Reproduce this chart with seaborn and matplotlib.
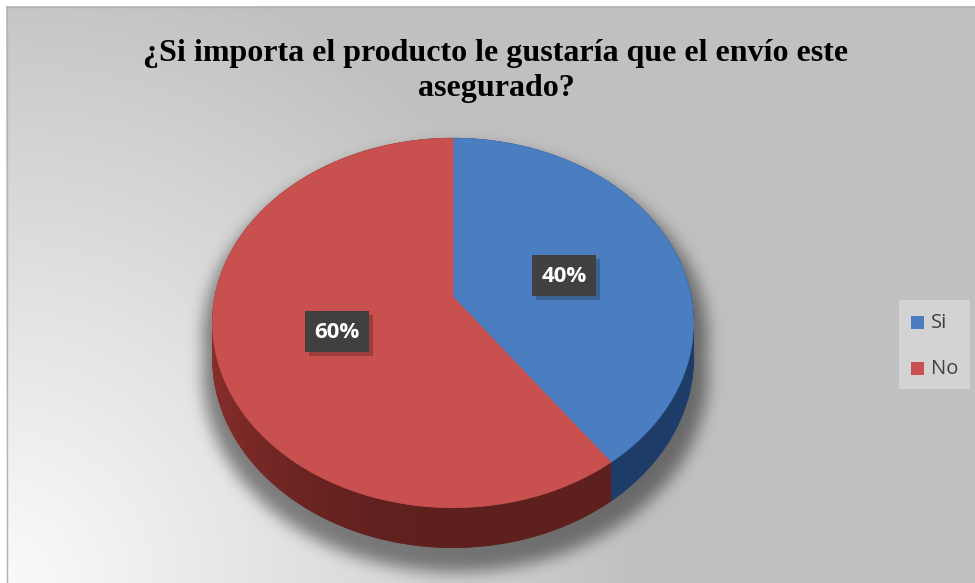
import numpy as np
import matplotlib
matplotlib.use("Agg")
import matplotlib.pyplot as plt
from matplotlib.patches import Polygon, Rectangle
from matplotlib.path import Path
import seaborn as sns

# ---- data -------------------------------------------------------------
categories = ["Si", "No"]
values = [40, 60]
value_labels = ["40%", "60%"]
title = "¿Si importa el producto le gustaría que el envío este\nasegurado?"

sns.set_theme(style="white")
plt.rcParams["font.family"] = ["Open Sans", "DejaVu Sans"]

top_colors = sns.color_palette(["#4a7ec0", "#c8504e"])
side_colors = sns.color_palette(["#28508a", "#7d2a27"])

W, H = 975, 583
fig = plt.figure(figsize=(W / 100, H / 100), dpi=100)
ax = fig.add_axes([0, 0, 1, 1])
ax.set_xlim(0, W)
ax.set_ylim(H, 0)
ax.axis("off")

# ---- pie geometry (perspective projection of a flat cylinder) ----------
cx, cy = 453, 297          # projected centre of the top face
ra, rk = 238, 181          # horizontal / vertical radii
persp = 0.1405             # far side appears smaller
depth = 34.4               # thickness of the disc


def proj(t, z=0.0, f=1.0):
    u, v = f * np.sin(t), f * np.cos(t)
    w = 1 + persp * v
    return cx + ra * u / w, cy - rk * v / w + z * depth / w


# ---- background: radial grey gradient with a soft pie shadow -----------
ox, oy = 6, 6
yy, xx = np.mgrid[0:H, 0:W].astype(float)
r = np.hypot(xx - 0, yy - H)
t = np.clip(r / 640, 0, 1)
bg = 250 - 58 * t ** 1.1

tt = np.linspace(0, 2 * np.pi, 400)
mask = np.zeros((H, W))
grid = np.c_[xx.ravel(), yy.ravel()]
for z in (0, 1):
    xs, ys = proj(tt, z)
    px = cx + (xs - cx) * 1.05 + 2
    py = cy + (ys - cy) * 1.04 + 14
    mask = np.maximum(mask, Path(np.c_[px, py]).contains_points(grid).reshape(H, W))


def box_blur(a, rad):
    for axis in (0, 1):
        pad = [(0, 0), (0, 0)]
        pad[axis] = (rad + 1, rad)
        p = np.pad(a, pad, mode="edge")
        c = np.cumsum(p, axis=axis)
        if axis == 0:
            a = (c[2 * rad + 1:] - c[:-2 * rad - 1]) / (2 * rad + 1)
        else:
            a = (c[:, 2 * rad + 1:] - c[:, :-2 * rad - 1]) / (2 * rad + 1)
    return a


shadow = mask.astype(float)
for _ in range(3):
    shadow = box_blur(shadow, 7)
bg = bg * (1 - 0.45 * shadow)
img = np.clip(np.repeat(bg[..., None], 3, axis=2) / 255.0, 0, 1)
img[:oy, :, :] = 1.0
img[:, :ox, :] = 1.0
ax.imshow(img, extent=[0, W, H, 0], interpolation="bilinear", zorder=0)
ax.plot([ox + 0.5, ox + 0.5], [oy, H], color="#b4b4b4", lw=1, zorder=1)
ax.plot([ox, W], [oy + 0.5, oy + 0.5], color="#b4b4b4", lw=1, zorder=1)

# ---- slices -------------------------------------------------------------
fracs = np.array(values, dtype=float) / np.sum(values)
bounds = np.concatenate([[0], np.cumsum(fracs)]) * 2 * np.pi

# side wall, shaded along the rim
for i in range(len(values)):
    t0, t1 = bounds[i], bounds[i + 1]
    steps = np.linspace(t0, t1, int(200 * (t1 - t0) / np.pi) + 2)
    base = np.array(side_colors[i])
    for a0, a1 in zip(steps[:-1], steps[1:]):
        am = 0.5 * (a0 + a1)
        fac = 0.75 + 0.35 * max(0.0, -np.sin(am)) ** 2
        col = np.clip(base * fac, 0, 1)
        x0t, y0t = proj(a0, 0)
        x1t, y1t = proj(a1, 0)
        x0b, y0b = proj(a0, 1)
        x1b, y1b = proj(a1, 1)
        ax.add_patch(Polygon([(x0t, y0t), (x1t, y1t), (x1b, y1b), (x0b, y0b)],
                             closed=True, fc=col, ec=col, lw=0.6, zorder=2))

# top face
for i in range(len(values)):
    arc = np.linspace(bounds[i], bounds[i + 1], 200)
    xs, ys = proj(arc, 0)
    pts = np.vstack([[cx, cy], np.c_[xs, ys]])
    ax.add_patch(Polygon(pts, closed=True, fc=top_colors[i], ec=top_colors[i],
                         lw=0.6, zorder=3))

# ---- value labels -------------------------------------------------------
bw, bh = 64, 41
for i, lab in enumerate(value_labels):
    mid = 0.5 * (bounds[i] + bounds[i + 1])
    lx, ly = proj(mid, 0, f=0.5)
    ly += 6
    ax.add_patch(Rectangle((lx - bw / 2 + 4, ly - bh / 2 + 4), bw, bh,
                           fc="black", ec="none", alpha=0.22, zorder=4))
    ax.add_patch(Rectangle((lx - bw / 2, ly - bh / 2), bw, bh,
                           fc="#404040", ec="none", zorder=5))
    ax.text(lx, ly + 1, lab, ha="center", va="center", color="white",
            fontsize=16, fontweight="bold", zorder=6)

# ---- legend --------------------------------------------------------------
ax.add_patch(Rectangle((899, 300), 71, 89, fc="#d3d3d3", ec="none", zorder=4))
for i, cat in enumerate(categories):
    yc = 322 + 46 * i
    ax.add_patch(Rectangle((911, yc - 6.5), 13, 13, fc=top_colors[i], ec="none", zorder=5))
    ax.text(931, yc + 1, cat, ha="left", va="center", color="#404040",
            fontsize=14.5, zorder=5)

# ---- title ---------------------------------------------------------------
ax.text(496, 71, title, ha="center", va="center", fontsize=23, fontweight="bold",
        family=["Liberation Serif", "DejaVu Serif"], color="black",
        linespacing=1.25, zorder=5)

fig.savefig("out.png", dpi=100)
